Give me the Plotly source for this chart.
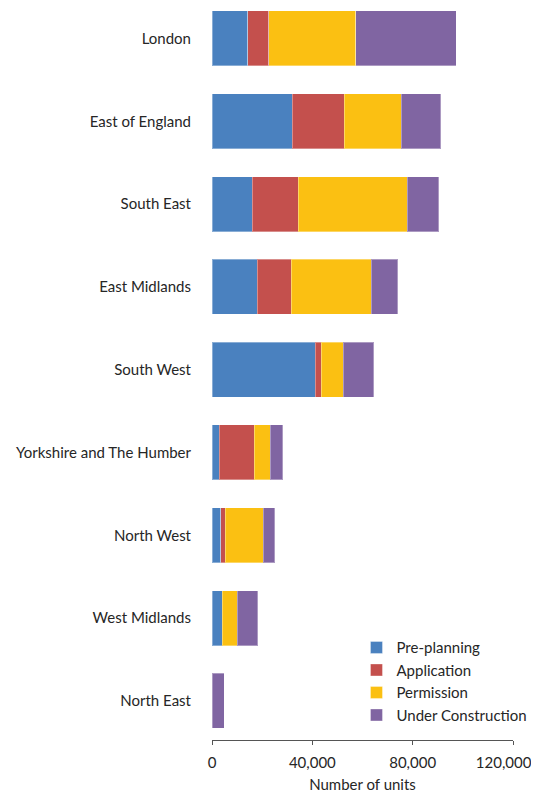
import plotly.graph_objects as go

regions = ["North East", "West Midlands", "North West", "Yorkshire and The Humber",
           "South West", "East Midlands", "South East", "East of England", "London"]
pre_planning = [0, 4000, 3500, 2900, 41200, 18100, 16000, 32000, 14200]
application = [0, 0, 1800, 13900, 2400, 13500, 18300, 20800, 8500]
permission = [0, 6000, 15200, 6500, 8800, 31800, 43500, 22600, 34600]
under_construction = [4900, 8200, 4500, 4900, 12000, 10700, 12500, 15700, 40100]

x_ticks = [0, 40000, 80000, 120000]
x_tick_labels = ["0", "40,000", "80,000", "120,000\u2003\u2002"]

series = [
    ("Pre-planning", pre_planning, "#4A81BF"),
    ("Application", application, "#C4504D"),
    ("Permission", permission, "#FBC012"),
    ("Under Construction", under_construction, "#8065A2"),
]

font_family = "Lato, 'Open Sans', sans-serif"
text_color = "#262626"

fig = go.Figure()
for name, vals, color in series:
    fig.add_trace(go.Bar(
        y=regions, x=vals, name=name, orientation="h",
        marker=dict(color=color, line=dict(color="rgba(255,255,255,0.35)", width=1)),
    ))

fig.update_layout(
    barmode="stack",
    bargap=0.336,
    width=531, height=785,
    margin=dict(l=204, r=26, t=0, b=53, autoexpand=False),
    paper_bgcolor="white", plot_bgcolor="white",
    font=dict(family=font_family, size=15, color=text_color),
    showlegend=True,
    legend=dict(
        x=0.48, y=0.012, xanchor="left", yanchor="bottom",
        traceorder="normal",
        font=dict(size=15, color=text_color),
        itemwidth=30, tracegroupgap=0,
        bgcolor="rgba(0,0,0,0)",
    ),
    xaxis=dict(
        range=[0, 120000],
        automargin=False,
        tickvals=x_ticks, ticktext=x_tick_labels,
        ticklabeloverflow="allow",
        ticklabelstandoff=5,
        showgrid=False, zeroline=False,
        showline=True, linecolor="#555555", linewidth=1,
        ticks="outside", ticklen=4, tickcolor="#555555",
        tickfont=dict(size=15, color=text_color),
        title=dict(text="Number of units", font=dict(size=15, color=text_color), standoff=20),
    ),
    yaxis=dict(
        type="category",
        automargin=False,
        categoryorder="array", categoryarray=regions,
        range=[-0.473, 8.368],
        showgrid=False, zeroline=False, showline=False,
        ticks="", ticklabelstandoff=20,
        tickfont=dict(size=15, color=text_color),
    ),
)

fig.write_html("out.html")
